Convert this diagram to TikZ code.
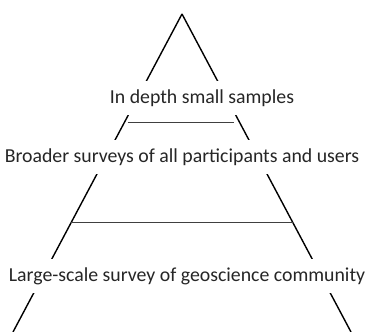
\documentclass[tikz,border=0pt]{standalone}
\usepackage{fontspec}
\setmainfont{Carlito}
\usetikzlibrary{calc}

\begin{document}
\begin{tikzpicture}[x=1pt, y=-1pt,
  side/.style={black, line width=1.4pt},
  tier/.style={black!75, line width=0.6pt},
  layer/.style={fill=white, inner xsep=1pt, inner ysep=0pt, minimum height=34pt,
    font=\fontsize{19.8}{22}\selectfont, text=black!85}]
  \useasboundingbox (0,0) rectangle (367,332);

  % ---------- outline of the pyramid ----------
  \coordinate (apex) at (182,14);
  \coordinate (baseL) at (13,332);
  \coordinate (baseR) at (351,332);
  \draw[side] (apex) -- (baseL);
  \draw[side] (apex) -- (baseR);

  % ---------- tier boundaries ----------
  \draw[tier, shorten <=3pt, shorten >=5pt] ($(apex)!0.34!(baseL)$) -- ($(apex)!0.34!(baseR)$);
  \draw[tier] ($(apex)!0.654!(baseL)$) -- ($(apex)!0.654!(baseR)$);

  % ---------- tier labels (white boxes cut the sides) ----------
  \node[layer] (top) at (202,98) {In depth small samples};
  \node[layer] (mid) at (182,157) {Broader surveys of all participants and users};
  \node[layer] (base) at (187,276) {Large-scale survey of geoscience community};
\end{tikzpicture}
\end{document}
